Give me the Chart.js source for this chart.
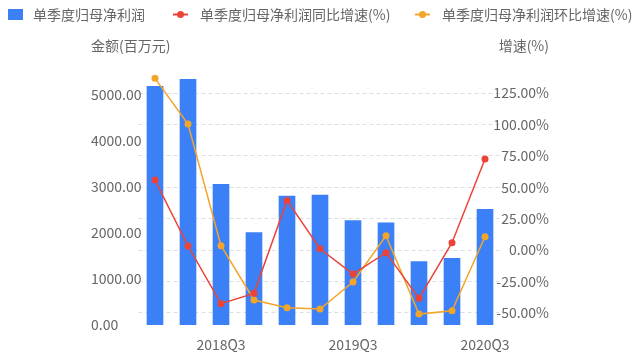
<!DOCTYPE html>
<html><head><meta charset="utf-8">
<script src="https://cdn.jsdelivr.net/npm/chart.js@4/dist/chart.umd.min.js"></script>
<style>html,body{margin:0;padding:0;background:#fff}canvas{display:block}</style>
</head><body>
<canvas id="c" width="640" height="357"></canvas>
<script>
const categories = ['2018Q1','2018Q2','2018Q3','2018Q4','2019Q1','2019Q2','2019Q3','2019Q4','2020Q1','2020Q2','2020Q3'];
const profit = [5190, 5340, 3058, 2007, 2804, 2826, 2268, 2224, 1377, 1450, 2515];
const yoy = [55.7, 3.2, -42.7, -34.5, 39.5, 1.0, -19.1, -2.1, -38.5, 5.8, 72.5];
const qoq = [136.7, 100.3, 3.4, -39.8, -45.9, -47.0, -25.5, 11.4, -51.0, -48.3, 10.6];
const leftTicks = [0, 1000, 2000, 3000, 4000, 5000];
const rightTicks = [-50, -25, 0, 25, 50, 75, 100, 125];
const xLabelShown = ['2018Q3', '2019Q3', '2020Q3'];
const seriesNames = ['单季度归母净利润', '单季度归母净利润同比增速(%)', '单季度归母净利润环比增速(%)'];
const axisTitles = ['金额(百万元)', '增速(%)'];

const FONT = '"Noto Sans CJK SC", "Noto Sans", sans-serif';
const TXT = '#666666';
const BLUE = '#3b80f7', RED = '#ec4339', ORANGE = '#f3a52a';

const legendAndTitles = {
  id: 'legendAndTitles',
  afterDraw(chart) {
    const ctx = chart.ctx;
    ctx.save();
    ctx.font = '14px ' + FONT;
    ctx.fillStyle = TXT;
    ctx.textBaseline = 'middle';
    const ds = chart.data.datasets;
    ctx.fillStyle = ds[0].backgroundColor;
    ctx.fillRect(8, 9, 15, 11);
    ctx.fillStyle = TXT;
    ctx.textAlign = 'left';
    ctx.fillText(ds[0].label, 33, 15);
    const items = [[ds[1], 173, 200], [ds[2], 415, 442]];
    for (const [d, x0, tx] of items) {
      ctx.strokeStyle = d.borderColor;
      ctx.lineWidth = 2;
      ctx.beginPath(); ctx.moveTo(x0, 14.5); ctx.lineTo(x0 + 15, 14.5); ctx.stroke();
      ctx.fillStyle = d.borderColor;
      ctx.beginPath(); ctx.arc(x0 + 7.5, 14.5, 3.5, 0, Math.PI * 2); ctx.fill();
      ctx.fillStyle = TXT;
      ctx.fillText(d.label, tx, 15);
    }
    ctx.textAlign = 'left';
    ctx.fillText(axisTitles[0], 91, 46);
    ctx.textAlign = 'right';
    ctx.fillText(axisTitles[1], 549, 46);
    ctx.restore();
  }
};

function fixY(s) { s.width = 47.5; s.paddingTop = 0; s.paddingBottom = 0; }

new Chart(document.getElementById('c'), {
  type: 'bar',
  data: {
    labels: categories,
    datasets: [
      { type: 'bar', label: seriesNames[0], data: profit, backgroundColor: BLUE, yAxisID: 'y', order: 2,
        barThickness: 16 },
      { type: 'line', label: seriesNames[1], data: yoy, borderColor: RED, backgroundColor: RED, yAxisID: 'y1', order: 0,
        borderWidth: 1.5, pointRadius: 3.5, pointBackgroundColor: RED, pointBorderWidth: 0, tension: 0 },
      { type: 'line', label: seriesNames[2], data: qoq, borderColor: ORANGE, backgroundColor: ORANGE, yAxisID: 'y1', order: 1,
        borderWidth: 1.5, pointRadius: 3.5, pointBackgroundColor: ORANGE, pointBorderWidth: 0, tension: 0 }
    ]
  },
  options: {
    responsive: false,
    animation: false,
    devicePixelRatio: 1,
    layout: { padding: { top: 61, left: 91, right: 91, bottom: 0 } },
    plugins: { legend: { display: false }, tooltip: { enabled: false } },
    scales: {
      x: {
        grid: { display: false, drawTicks: false },
        border: { display: false },
        ticks: {
          autoSkip: false, maxRotation: 0, padding: 11,
          color: TXT, font: { size: 14, family: FONT },
          callback: function (v, i) { const l = categories[i]; return xLabelShown.includes(l) ? l : ''; }
        },
        afterFit: s => { s.height = 32; }
      },
      y: {
        position: 'left', min: 0, max: 5740,
        grid: { display: false, drawTicks: false },
        border: { display: false },
        afterBuildTicks: s => { s.ticks = leftTicks.map(v => ({ value: v })); },
        ticks: {
          mirror: true, crossAlign: 'near', padding: -47.5,
          color: TXT, font: { size: 14, family: FONT },
          callback: v => Number(v).toFixed(2)
        },
        afterFit: fixY
      },
      y1: {
        position: 'right', min: -59.7, max: 150.5,
        grid: { display: true, drawTicks: false, color: '#dedede', lineWidth: 1 },
        border: { display: false, dash: [4, 3] },
        afterBuildTicks: s => { s.ticks = rightTicks.map(v => ({ value: v })); },
        ticks: {
          mirror: true, crossAlign: 'near', padding: 47.5,
          color: TXT, font: { size: 14, family: FONT },
          callback: v => Number(v).toFixed(2) + '%'
        },
        afterFit: fixY
      }
    }
  },
  plugins: [legendAndTitles]
});
</script>
</body></html>
